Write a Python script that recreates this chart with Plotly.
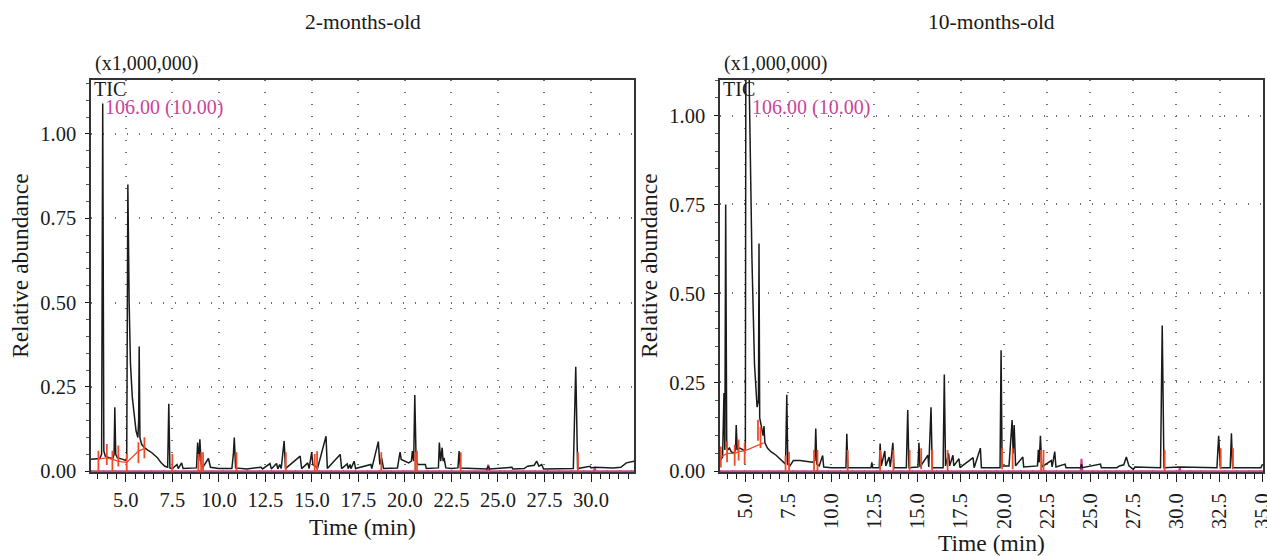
import plotly.graph_objects as go

# ---------------- data ----------------
panel_titles = ["2-months-old", "10-months-old"]

# TIC chromatogram vertices, 2-months-old
tic2_time = [3.13, 3.40, 3.60, 3.70, 3.76, 3.82, 3.90, 4.10, 4.30, 4.37, 4.41, 4.46, 4.55, 4.80,
             5.00, 5.05, 5.11, 5.18, 5.25, 5.35, 5.45, 5.55, 5.65, 5.69, 5.72, 5.76, 5.85, 6.00,
             6.20, 6.40, 6.70, 6.90, 7.10, 7.25, 7.31, 7.37, 7.50, 7.75, 7.82, 8.00, 8.08, 8.50,
             8.80, 8.86, 8.92, 8.98, 9.05, 9.15, 9.44, 9.55, 10.00, 10.70, 10.78, 10.83, 10.90,
             11.50, 12.27, 12.35, 12.75, 12.82, 13.10, 13.17, 13.27, 13.35, 13.51, 13.58, 14.37,
             14.45, 14.78, 14.85, 14.99, 15.05, 15.20, 15.30, 15.76, 15.83, 16.52, 16.60, 16.90,
             16.95, 17.05, 17.10, 17.27, 17.35, 18.17, 18.22, 18.57, 18.65, 18.75, 18.85, 19.60,
             19.70, 19.74, 19.80, 20.00, 20.20, 20.35, 20.40, 20.47, 20.53, 20.60, 20.70, 21.10,
             21.15, 21.80, 21.85, 21.92, 22.00, 22.05, 22.10, 22.20, 22.50, 22.85, 22.91, 22.98,
             24.40, 24.48, 24.55, 25.75, 25.80, 26.40, 26.60, 26.95, 27.08, 27.20, 27.35, 27.45,
             29.05, 29.18, 29.28, 29.95, 30.00, 30.20, 31.20, 31.60, 31.90, 32.31]
tic2_abund = [0.036, 0.037, 0.038, 0.050, 1.090, 0.060, 0.045, 0.040, 0.038, 0.050, 0.190, 0.050,
              0.040, 0.036, 0.032, 0.040, 0.850, 0.500, 0.320, 0.220, 0.160, 0.120, 0.100, 0.150,
              0.370, 0.100, 0.080, 0.070, 0.062, 0.055, 0.040, 0.025, 0.015, 0.012, 0.200, 0.010,
              0.008, 0.020, 0.008, 0.025, 0.008, 0.008, 0.010, 0.085, 0.030, 0.095, 0.020, 0.012,
              0.038, 0.012, 0.008, 0.008, 0.050, 0.100, 0.010, 0.007, 0.012, 0.007, 0.023, 0.007,
              0.023, 0.007, 0.020, 0.008, 0.090, 0.008, 0.045, 0.008, 0.025, 0.008, 0.057, 0.020,
              0.015, 0.008, 0.104, 0.008, 0.050, 0.008, 0.022, 0.008, 0.020, 0.008, 0.030, 0.008,
              0.020, 0.008, 0.088, 0.020, 0.040, 0.008, 0.010, 0.045, 0.057, 0.035, 0.030, 0.025,
              0.030, 0.060, 0.030, 0.226, 0.035, 0.020, 0.020, 0.008, 0.010, 0.085, 0.030, 0.070,
              0.030, 0.040, 0.010, 0.008, 0.010, 0.060, 0.010, 0.007, 0.015, 0.007, 0.012, 0.007,
              0.008, 0.015, 0.018, 0.030, 0.015, 0.020, 0.007, 0.008, 0.310, 0.008, 0.015, 0.010,
              0.012, 0.010, 0.012, 0.025, 0.030]

# TIC chromatogram vertices, 10-months-old
tic10_time = [3.55, 3.70, 3.78, 3.83, 3.88, 3.94, 4.00, 4.10, 4.20, 4.35, 4.45, 4.49, 4.55, 4.70,
              4.90, 5.02, 5.06, 5.20, 5.25, 5.40, 5.55, 5.70, 5.78, 5.81, 5.85, 5.95, 6.05, 6.10,
              6.15, 6.30, 6.50, 6.80, 7.00, 7.20, 7.35, 7.42, 7.48, 7.60, 7.80, 8.20, 8.60, 8.90,
              9.05, 9.10, 9.16, 9.30, 9.50, 9.56, 10.00, 10.85, 10.90, 10.96, 12.30, 12.35, 12.40,
              12.78, 12.83, 12.90, 13.10, 13.16, 13.35, 13.42, 13.57, 13.63, 14.35, 14.43, 14.50,
              15.02, 15.08, 15.14, 15.60, 15.65, 15.78, 15.85, 16.48, 16.55, 16.62, 16.80, 16.86,
              17.05, 17.10, 17.40, 17.46, 18.22, 18.28, 18.64, 18.70, 19.78, 19.84, 19.90, 20.30,
              20.48, 20.54, 20.60, 20.68, 21.10, 21.15, 21.95, 22.00, 22.05, 22.12, 22.20, 22.75,
              22.80, 22.95, 23.02, 23.55, 23.60, 24.45, 24.50, 24.55, 25.60, 25.65, 26.55, 26.70,
              26.95, 27.10, 27.25, 27.50, 27.60, 29.08, 29.18, 29.28, 30.20, 32.35, 32.45, 32.55,
              33.12, 33.19, 33.26, 34.90, 35.00]
tic10_abund = [0.030, 0.040, 0.220, 0.060, 0.750, 0.070, 0.060, 0.065, 0.055, 0.050, 0.060, 0.130,
               0.060, 0.065, 0.060, 0.060, 1.600, 1.600, 1.070, 0.600, 0.300, 0.180, 0.200, 0.640,
               0.150, 0.120, 0.100, 0.127, 0.080, 0.065, 0.055, 0.045, 0.035, 0.028, 0.020, 0.215,
               0.020, 0.015, 0.030, 0.030, 0.028, 0.025, 0.030, 0.120, 0.020, 0.015, 0.044, 0.012,
               0.010, 0.010, 0.105, 0.010, 0.010, 0.025, 0.010, 0.010, 0.078, 0.015, 0.057, 0.015,
               0.040, 0.012, 0.080, 0.010, 0.010, 0.172, 0.010, 0.012, 0.080, 0.012, 0.045, 0.012,
               0.180, 0.010, 0.010, 0.272, 0.015, 0.050, 0.015, 0.045, 0.015, 0.035, 0.010, 0.038,
               0.010, 0.065, 0.010, 0.010, 0.340, 0.015, 0.015, 0.144, 0.050, 0.130, 0.015, 0.040,
               0.012, 0.015, 0.060, 0.025, 0.100, 0.012, 0.030, 0.012, 0.055, 0.012, 0.020, 0.010,
               0.010, 0.020, 0.010, 0.020, 0.010, 0.010, 0.015, 0.018, 0.040, 0.015, 0.005, 0.012,
               0.010, 0.410, 0.010, 0.012, 0.010, 0.100, 0.010, 0.010, 0.107, 0.010, 0.010, 0.020]

# m/z 106.00 trace (magenta)
mz2_time = [3.13, 24.42, 24.48, 24.54, 30.15, 30.20, 30.25, 32.31]
mz2_abund = [0.0, 0.0, 0.020, 0.0, 0.0, 0.010, 0.0, 0.0]
mz10_time = [3.55, 24.45, 24.50, 24.55, 30.15, 30.20, 30.25, 35.02]
mz10_abund = [0.0, 0.0, 0.035, 0.0, 0.0, 0.010, 0.0, 0.0]

# integration baseline (red) and peak markers
base2_time = [3.53, 3.98, 4.28, 4.60, 5.05, 5.68, 6.00]
base2_abund = [0.037, 0.040, 0.035, 0.030, 0.026, 0.060, 0.067]
mark2_time = [3.53, 3.98, 4.28, 4.60, 5.05, 5.68, 6.00, 7.50, 8.90, 9.05, 9.15, 10.95,
              13.60, 15.15, 15.28, 18.73, 20.55, 20.65, 23.00, 29.30]
mark2_abund = [0.030, 0.050, 0.030, 0.045, 0.020, 0.055, 0.070, 0.020, 0.020, 0.025, 0.025, 0.025,
               0.025, 0.020, 0.028, 0.025, 0.025, 0.030, 0.025, 0.025]

base10_time = [3.60, 3.96, 4.40, 4.63, 4.98, 6.08]
base10_abund = [0.040, 0.050, 0.050, 0.055, 0.057, 0.080]
mark10_time = [3.60, 3.96, 4.40, 4.63, 4.98, 5.75, 5.90, 7.35, 7.55, 9.00, 9.20, 10.95,
               12.83, 13.60, 14.54, 15.21, 15.85, 16.74, 19.90, 20.51, 22.16, 22.30, 29.32,
               32.57, 33.28]
mark10_abund = [0.040, 0.055, 0.045, 0.060, 0.050, 0.115, 0.095, 0.015, 0.025, 0.030, 0.030,
                0.030, 0.030, 0.030, 0.030, 0.035, 0.030, 0.030, 0.035, 0.035, 0.030, 0.030,
                0.030, 0.035, 0.035]

x_ranges = [[3.13, 32.31], [3.55, 35.02]]
y_ranges = [[-0.003, 1.16], [-0.003, 1.10]]

# ---------------- styling ----------------
FONT = "Liberation Serif"
BLACK = "#1a1a1a"
RED = "#f04a2a"
MAG = "#cc4499"
GRID = "#6f6f6f"
FS_TICK = 20.5
FS_LABEL = 20
FS_TITLE = 21.5
FS_AXT = 23.5

fig = go.Figure()

panels = [
    (tic2_time, tic2_abund, mz2_time, mz2_abund, base2_time, base2_abund, mark2_time, mark2_abund),
    (tic10_time, tic10_abund, mz10_time, mz10_abund, base10_time, base10_abund, mark10_time, mark10_abund),
]

for i, (tt, ta, mt, ma, bt, ba, kt, ka) in enumerate(panels):
    xa = "x" if i == 0 else "x2"
    ya = "y" if i == 0 else "y2"
    fig.add_trace(go.Scatter(x=mt, y=ma, mode="lines", line=dict(color=MAG, width=2),
                             xaxis=xa, yaxis=ya, hoverinfo="skip", cliponaxis=False))
    fig.add_trace(go.Scatter(x=tt, y=ta, mode="lines", line=dict(color=BLACK, width=1.5),
                             xaxis=xa, yaxis=ya))
    fig.add_trace(go.Scatter(x=bt, y=ba, mode="lines", line=dict(color=RED, width=1.3),
                             xaxis=xa, yaxis=ya, hoverinfo="skip"))
    fig.add_trace(go.Scatter(x=kt, y=ka, mode="markers",
                             marker=dict(symbol="line-ns", size=15,
                                         line=dict(color=RED, width=1.8)),
                             xaxis=xa, yaxis=ya, hoverinfo="skip"))

W, H = 1267, 556
top_px, bot_px = 80, 472.3
xdoms = [[91 / W, 634 / W], [720 / W, 1263 / W]]
ydom = [(H - bot_px) / H, (H - top_px) / H]

def xaxis_cfg(i):
    return dict(
        domain=xdoms[i], range=x_ranges[i], anchor="y" if i == 0 else "y2",
        tick0=0, dtick=2.5, tickformat=".1f", ticks="outside", ticklen=8, tickwidth=1.2,
        tickcolor=BLACK, showline=True, linecolor="#333333", linewidth=1.5, mirror=True,
        showgrid=True, gridcolor=GRID, gridwidth=1.5, griddash="1px,11px",
        zeroline=False, tickangle=0 if i == 0 else -90, automargin=False,
        tickfont=dict(family=FONT, size=FS_TICK, color=BLACK),
        minor=dict(dtick=0.5, tick0=0, ticks="outside", ticklen=5, tickwidth=1.2,
                   tickcolor=BLACK, showgrid=False),
        ticklabelstandoff=0 if i == 0 else 3, ticklabeloverflow="allow",
        layer="below traces",
    )

def yaxis_cfg(i):
    return dict(
        domain=ydom, range=y_ranges[i], anchor="x" if i == 0 else "x2",
        tick0=0, dtick=0.25, tickformat=".2f", ticks="outside", ticklen=4, tickwidth=1.2,
        tickcolor=BLACK, showline=True, linecolor="#333333", linewidth=1.5, mirror=True,
        showgrid=True, gridcolor=GRID, gridwidth=1.5, griddash="1px,11px",
        zeroline=False, tickfont=dict(family=FONT, size=FS_TICK, color=BLACK), automargin=False,
        minor=dict(dtick=0.05, tick0=0, ticks="outside", ticklen=3, tickwidth=1.0,
                   tickcolor="#555555", showgrid=False),
        ticklabelstandoff=5, ticklabeloverflow="allow",
        layer="below traces",
    )

annotations = []
for i in range(2):
    x0, x1 = xdoms[i]
    cx = (x0 + x1) / 2
    annotations += [
        dict(text=panel_titles[i], x=cx, y=1 - 22 / H, xref="paper", yref="paper",
             showarrow=False, font=dict(family=FONT, size=FS_TITLE, color=BLACK),
             xanchor="center", yanchor="middle"),
        dict(text="(x1,000,000)", x=x0 + 2 / W, y=1 - 64 / H, xref="paper", yref="paper",
             showarrow=False, font=dict(family=FONT, size=FS_LABEL, color=BLACK),
             xanchor="left", yanchor="middle"),
        dict(text="TIC", x=x0 + 1 / W, y=1 - 89 / H, xref="paper", yref="paper",
             showarrow=False, font=dict(family=FONT, size=FS_LABEL, color=BLACK),
             xanchor="left", yanchor="middle"),
        dict(text="106.00 (10.00)", x=(x0 * W + (12 if i == 0 else 30)) / W, y=1 - 107 / H,
             xref="paper", yref="paper", showarrow=False,
             font=dict(family=FONT, size=FS_LABEL, color=MAG), xanchor="left", yanchor="middle"),
        dict(text="Relative abundance", x=(x0 * W - 71) / W, y=1 - 266 / H, xref="paper",
             yref="paper", showarrow=False, textangle=-90,
             font=dict(family=FONT, size=FS_AXT, color=BLACK), xanchor="center", yanchor="middle"),
        dict(text="Time (min)", x=cx, y=1 - (527 if i == 0 else 543) / H, xref="paper",
             yref="paper", showarrow=False, font=dict(family=FONT, size=FS_AXT, color=BLACK),
             xanchor="center", yanchor="middle"),
    ]

fig.update_layout(
    width=W, height=H, margin=dict(l=0, r=0, t=0, b=0, pad=0), autosize=False,
    paper_bgcolor="white", plot_bgcolor="white", showlegend=False,
    font=dict(family=FONT, color=BLACK),
    xaxis=xaxis_cfg(0), yaxis=yaxis_cfg(0),
    xaxis2=xaxis_cfg(1), yaxis2=yaxis_cfg(1),
    annotations=annotations,
)

post = ("document.documentElement.style.margin='0';document.body.style.margin='0';"
        "document.body.style.padding='0';document.documentElement.style.overflow='hidden';"
        "document.body.style.overflow='hidden';")
fig.write_html("out.html", config={"responsive": False, "displayModeBar": False},
               post_script=post)
